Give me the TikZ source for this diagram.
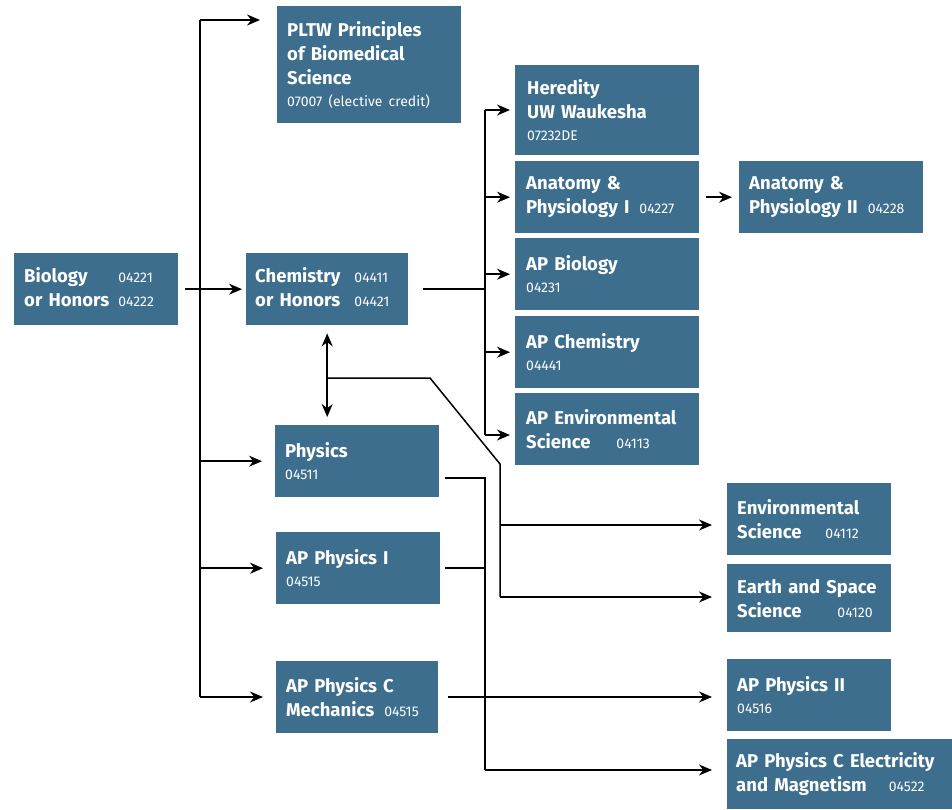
\documentclass[tikz,border=0pt]{standalone}
\usepackage{fontspec}
\setmainfont{Fira Sans}
\usetikzlibrary{arrows.meta}
\definecolor{boxblue}{RGB}{61,110,142}
\newcommand{\ccode}[1]{{\fontsize{14}{16}\selectfont\mdseries #1}}
\tikzset{
  course/.style={fill=boxblue, text=white, anchor=north west, inner xsep=10pt, inner ysep=0pt,
    align=left, font=\fontsize{18.5}{24}\selectfont\bfseries},
  arr/.style={-{Stealth[length=13pt,width=11pt]}, line width=1.5pt},
  wire/.style={line width=1.5pt}
}
\begin{document}
\begin{tikzpicture}[x=1pt,y=-1pt]
  \useasboundingbox (0,0) rectangle (952,810);
  \node[course, text width=164pt, minimum height=117pt] (pltw) at (277,6)
    {PLTW Principles\\of Biomedical\\Science\\[-2pt]\ccode{07007 (elective credit)}};
  \node[course, text width=144pt, minimum height=72pt] (bio) at (14,253)
    {\begin{tabular}{@{}l@{\hspace{9pt}}l@{}}Biology & \ccode{04221}\\ or Honors & \ccode{04222}\end{tabular}};
  \node[course, text width=144pt, minimum height=72pt, inner xsep=9pt] (chem) at (246,253)
    {\begin{tabular}{@{}l@{\hspace{14pt}}l@{}}Chemistry & \ccode{04411}\\ or Honors & \ccode{04421}\end{tabular}};
  \node[course, text width=160pt, minimum height=90pt, inner xsep=12pt] (hered) at (515,65)
    {Heredity\\UW Waukesha\\[-2pt]\ccode{07232DE}};
  \node[course, text width=162pt, minimum height=72pt, inner xsep=11pt] (anatone) at (515,161)
    {Anatomy \&\\Physiology I\hspace{10pt}\ccode{04227}};
  \node[course, text width=164pt, minimum height=72pt] (anattwo) at (739,161)
    {Anatomy \&\\Physiology II\hspace{10pt}\ccode{04228}};
  \node[course, text width=162pt, minimum height=72pt, inner xsep=11pt] (apbio) at (515,238)
    {AP Biology\\[-2pt]\ccode{04231}};
  \node[course, text width=162pt, minimum height=72pt, inner xsep=11pt] (apchem) at (515,316)
    {AP Chemistry\\[-2pt]\ccode{04441}};
  \node[course, text width=162pt, minimum height=72pt, inner xsep=11pt] (apenv) at (515,393)
    {AP Environmental\\Science\hspace{26pt}\ccode{04113}};
  \node[course, text width=144pt, minimum height=72pt] (phys) at (275,425)
    {Physics\\[-2pt]\ccode{04511}};
  \node[course, text width=144pt, minimum height=72pt] (apphysone) at (276,532)
    {AP Physics I\\[-2pt]\ccode{04515}};
  \node[course, text width=142pt, minimum height=72pt] (apphysc) at (276,661)
    {AP Physics C\\Mechanics\hspace{10pt}\ccode{04515}};
  \node[course, text width=144pt, minimum height=72pt] (envsci) at (727,483)
    {Environmental\\Science\hspace{24pt}\ccode{04112}};
  \node[course, text width=144pt, minimum height=68pt] (earth) at (727,564)
    {Earth and Space\\Science\hspace{36pt}\ccode{04120}};
  \node[course, text width=207pt, minimum height=70pt, inner xsep=9pt] (apphysem) at (727,739)
    {AP Physics C Electricity\\and Magnetism\hspace{22pt}\ccode{04522}};
  \node[course, text width=144pt, minimum height=72pt] (apphystwo) at (727,659)
    {AP Physics II\\[-2pt]\ccode{04516}};

  \coordinate (bt) at (200,20);
  \coordinate (bb) at (200,697);
  \draw[arr] ([xshift=7]bio.east) -- ([xshift=-4]chem.west);
  \draw[wire] (bt) -- (bb);
  \draw[arr] (bt) -- ([xshift=-17]bt -| pltw.west);
  \draw[arr] (bt |- phys.west) -- ([xshift=-13]phys.west);
  \draw[arr] (bt |- apphysone.west) -- ([xshift=-13]apphysone.west);
  \draw[arr] (bb) -- ([xshift=-13]bb -| apphysc.west);

  \coordinate (ct) at (485,110);
  \coordinate (cb) at (485,435);
  \draw[wire] ([xshift=15]chem.east) -- (chem.east -| ct);
  \draw[wire] (ct) -- (cb);
  \draw[arr] (ct) -- ([xshift=-5]ct -| hered.west);
  \draw[arr] (ct |- anatone.west) -- ([xshift=-5]anatone.west);
  \draw[arr] (ct |- apbio.west) -- ([xshift=-5]apbio.west);
  \draw[arr] (ct |- apchem.west) -- ([xshift=-5]apchem.west);
  \draw[arr] (cb) -- ([xshift=-5]cb -| apenv.west);
  \draw[arr] ([xshift=7]anatone.east) -- ([xshift=-7]anattwo.west);

  \coordinate (ek) at (328,378);
  \coordinate (et) at (500,464);
  \coordinate (eb) at (500,597);
  \draw[arr, {Stealth[length=13pt,width=11pt]}-{Stealth[length=13pt,width=11pt]}]
    ([yshift=-8]chem.south) -- ([yshift=8]chem.south |- phys.north);
  \draw[wire] (ek) -- (430,378) -- (et) -- (eb);
  \draw[arr] (et |- 0,525) -- ([xshift=-15]envsci.west |- 0,525);
  \draw[arr] (eb) -- ([xshift=-15]eb -| earth.west);

  \coordinate (pt) at (485,478);
  \coordinate (pb) at (485,770);
  \draw[wire] ([xshift=6]phys.east |- pt) -- (pt) -- (pb);
  \draw[wire] ([xshift=5]apphysone.east) -- (apphysone.east -| pt);
  \draw[arr] (pb) -- ([xshift=-15]pb -| apphysem.west);
  \draw[arr] ([xshift=10]apphysc.east |- bb) -- ([xshift=-15]apphystwo.west |- bb);
\end{tikzpicture}
\end{document}
